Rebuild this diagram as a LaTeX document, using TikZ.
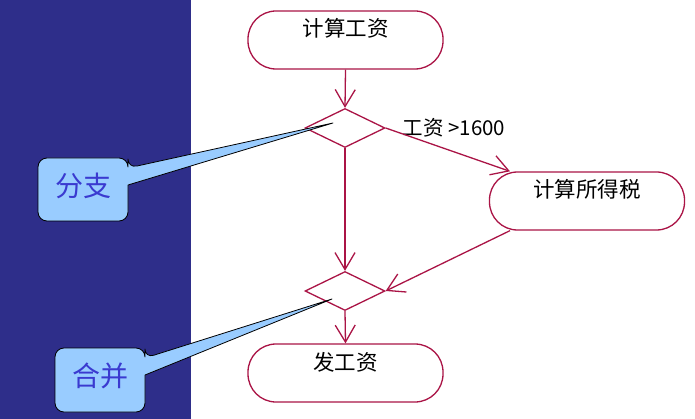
\documentclass[tikz,border=0pt]{standalone}
\usepackage{fontspec}
\newfontfamily\cjk{Noto Sans CJK SC}
\usetikzlibrary{shapes.geometric,arrows.meta}
\definecolor{panel}{RGB}{46,46,138}
\definecolor{flowred}{RGB}{170,20,70}
\definecolor{calloutfill}{RGB}{153,204,255}
\definecolor{callouttext}{RGB}{58,58,208}
\begin{document}
\begin{tikzpicture}[x=1pt,y=-1pt,
  act/.style={draw=flowred, line width=1.3pt, rectangle, rounded corners=28pt,
    minimum width=195pt, minimum height=58pt, inner sep=0pt,
    text height=26pt, text depth=32pt, font=\cjk\fontsize{21.5pt}{24pt}\selectfont},
  decision/.style={draw=flowred, line width=1.3pt, diamond, minimum width=80pt,
    minimum height=39pt, inner sep=0pt},
  flow/.style={draw=flowred, line width=1.3pt, -{Straight Barb[length=17pt,width=20pt]}},
  guard/.style={font=\cjk\fontsize{20.5pt}{22pt}\selectfont, inner sep=0pt},
  callout/.style={draw=black, fill=calloutfill, line width=0.8pt, line join=round},
  ctext/.style={text=callouttext, inner sep=0pt, font=\cjk\fontsize{28pt}{30pt}\selectfont}]
\useasboundingbox (0,0) rectangle (695,419);
\fill[white] (0,0) rectangle (695,419);
\fill[panel] (0,0) rectangle (191,419);
% activities
\node[act] (n1) at (345.5,40) {计算工资};
\node[act] (n2) at (587,201) {计算所得税};
\node[act] (n3) at (345.5,373) {发工资};
% decisions
\node[decision] (d1) at (345,128) {};
\node[decision] (d2) at (345,291) {};
\node[guard] (g) at (454,128) {工资 >1600};
% flows
\draw[flow] (n1.south) -- (d1.north);
\draw[flow] (d1.east) -- ([xshift=-77pt]n2.north);
\draw[flow] (d1.south) -- (d2.north);
\draw[flow] ([xshift=-77pt]n2.south) -- (d2.east);
\draw[flow] (d2.south) -- (n3.north);
% callouts
\coordinate (t1) at (333,123);
\coordinate (t2) at (332,299);
\draw[callout] (83,158) [rounded corners=9pt] -- (128,158) -- (128,168) [sharp corners] -- (t1) -- (128,185) -- (128,200) [rounded corners=9pt] -- (128,221) -- (38,221) -- (38,158) -- cycle;
\node[ctext] (c1) at (83,186) {分支};
\draw[callout] (100,348) [rounded corners=9pt] -- (145,348) -- (145,358) [sharp corners] -- (t2) -- (145,375) -- (145,390) [rounded corners=9pt] -- (145,412) -- (55,412) -- (55,348) -- cycle;
\node[ctext] (c2) at (100,376) {合并};
\end{tikzpicture}
\end{document}
